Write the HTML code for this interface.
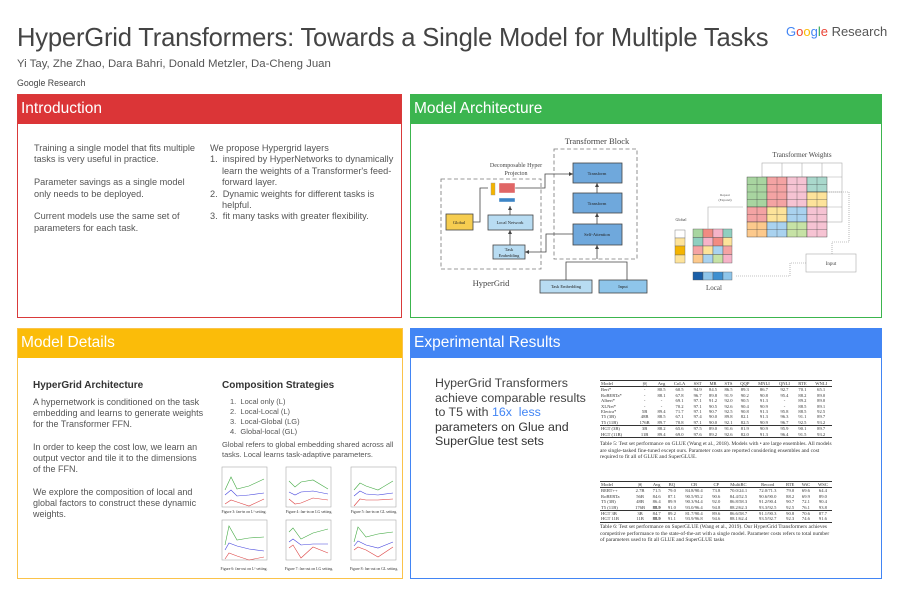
<!DOCTYPE html>
<html><head><meta charset="utf-8"><style>
*{margin:0;padding:0;box-sizing:border-box}
body{width:900px;height:600px;background:#fff;position:relative;overflow:hidden;font-family:"Liberation Sans",sans-serif;color:#444}
.a{position:absolute}
.box{position:absolute;border:1.5px solid}
.hd{position:absolute;left:0;right:0;top:0;height:29px;color:#fff;font-size:15.5px;padding:5px 0 0 3px}
.t{position:absolute;font-size:9.2px;line-height:11.4px;color:#555}
.t p{margin-bottom:11.4px}
table{border-collapse:collapse;font-family:"Liberation Serif",serif;font-size:4.6px;color:#333;line-height:5.4px}
td{padding:0 1px;text-align:center;white-space:nowrap}
td:first-child{text-align:left}
.cap{font-family:"Liberation Serif",serif;font-size:5.4px;line-height:6.6px;color:#333;position:absolute}
</style></head><body>
<div class="a" style="left:17px;top:24px;font-size:25.6px;color:#444;letter-spacing:-0.2px;white-space:nowrap">HyperGrid Transformers: Towards a Single Model for Multiple Tasks</div>
<div class="a" style="left:17px;top:58px;font-size:11.4px;color:#555;white-space:nowrap">Yi Tay, Zhe Zhao, Dara Bahri, Donald Metzler, Da-Cheng Juan</div>
<div class="a" style="left:17px;top:78px;font-size:8.8px;color:#444">Google Research</div>
<div class="a" style="left:786px;top:24px;font-size:13px"><span style="color:#4285f4">G</span><span style="color:#ea4335">o</span><span style="color:#fbbc05">o</span><span style="color:#4285f4">g</span><span style="color:#34a853">l</span><span style="color:#ea4335">e</span><span style="color:#555"> Research</span></div>

<div class="box" style="left:17px;top:94px;width:385px;height:224px;border-color:#d93a3a">
<div class="hd" style="background:#db3537">Introduction</div></div>
<div class="t" style="left:34px;top:143px;width:162px">
<p>Training a single model that fits multiple tasks is very useful in practice.</p>
<p>Parameter savings as a single model only needs to be deployed.</p>
<p>Current models use the same set of parameters for each task.</p></div>
<div class="t" style="left:210px;top:143px;width:185px">We propose Hypergrid layers<br>
<div style="padding-left:12px;text-indent:-12px">1.&nbsp; inspired by HyperNetworks to dynamically learn the weights of a Transformer's feed-forward layer.</div>
<div style="padding-left:12px;text-indent:-12px">2.&nbsp; Dynamic weights for different tasks is helpful.</div>
<div style="padding-left:12px;text-indent:-12px">3.&nbsp; fit many tasks with greater flexibility.</div></div>

<div class="box" style="left:410px;top:94px;width:472px;height:224px;border-color:#3cb54e">
<div class="hd" style="background:#3bb54f">Model Architecture</div></div>
<svg class="a" style="left:0;top:0" width="900" height="600" font-family="Liberation Serif,serif">
<g fill="none" stroke="#777" stroke-width="0.8" stroke-dasharray="4,2.5">
<rect x="554" y="149" width="83" height="110"/><rect x="441" y="179" width="100" height="90"/></g>
<text x="597" y="144" font-size="8.5" text-anchor="middle" fill="#444">Transformer Block</text>
<text x="516" y="167" font-size="6" text-anchor="middle" fill="#444">Decomposable Hyper</text>
<text x="516" y="175" font-size="6" text-anchor="middle" fill="#444">Projecton</text>
<text x="491" y="286" font-size="8.5" text-anchor="middle" fill="#444">HyperGrid</text>
<g stroke="#444" stroke-width="0.8" font-size="4.5" fill="#222" text-anchor="middle">
<rect x="573" y="163" width="49" height="20" fill="#6fa8dc"/><text x="597" y="175" stroke="none">Transform</text>
<rect x="573" y="193" width="49" height="20" fill="#6fa8dc"/><text x="597" y="205" stroke="none">Transform</text>
<rect x="573" y="224" width="49" height="21" fill="#6fa8dc"/><text x="597" y="236" stroke="none">Self-Attention</text>
<rect x="446" y="214" width="27" height="16" fill="#f6cd50"/><text x="459" y="224" stroke="none">Global</text>
<rect x="488" y="215" width="45" height="15" fill="#b8dcf2"/><text x="510" y="224" stroke="none">Local Network</text>
<rect x="493" y="245" width="32" height="14" fill="#b8dcf2"/><text x="509" y="251" stroke="none">Task</text><text x="509" y="257" stroke="none">Embedding</text>
<rect x="540" y="280" width="52" height="13" fill="#b8dcf2"/><text x="566" y="288" stroke="none">Task Embedding</text>
<rect x="599" y="280" width="48" height="13" fill="#8ec5ea"/><text x="623" y="288" stroke="none">Input</text>
</g>
<g fill="none" stroke="#444" stroke-width="0.8">
<path d="M597 193V183M597 224V213M597 259V245M566 280V262H627V280M473 222H480V188H488M510 245V230M510 215V206M515 188H545V174H573M573 234H546V252H525"/></g>
<g fill="#444"><path d="M597 183l-2 4h4zM597 213l-2 4h4zM597 245l-2 4h4zM510 230l-2 4h4zM510 206l-2 4h4zM573 174l-4-2v4zM525 252l4-2v4z"/></g>
<rect x="491" y="183" width="4" height="12" fill="#f4b400" stroke="#999" stroke-width="0.4"/>
<g stroke="#fff" stroke-width="0.4"><rect x="499" y="183" width="16" height="10" fill="#e06666"/><rect x="499" y="198" width="16" height="4" fill="#3d85c6"/></g>
<text x="802" y="157" font-size="7" text-anchor="middle" fill="#444">Transformer Weights</text>
<g fill="none" stroke="#aaa" stroke-width="0.6"><rect x="762" y="163" width="80" height="59"/>
<path d="M782 163V222M802 163V222M822 163V222M762 177H842M762 192H842M762 207H842"/></g>
<g stroke="#333" stroke-width="0.4">
<rect x="747" y="177" width="20" height="30" fill="#a8d5a0"/><rect x="767" y="177" width="20" height="30" fill="#f4a3a3"/><rect x="787" y="177" width="20" height="30" fill="#f6c3d3"/><rect x="807" y="177" width="20" height="15" fill="#a9d8cc"/><rect x="807" y="192" width="20" height="15" fill="#fde39a"/>
<rect x="747" y="207" width="20" height="15" fill="#f4a3a3"/><rect x="767" y="207" width="20" height="15" fill="#fde39a"/><rect x="787" y="207" width="20" height="15" fill="#a9d2ef"/><rect x="807" y="207" width="20" height="15" fill="#f6c3d3"/>
<rect x="747" y="222" width="20" height="15" fill="#fcc98c"/><rect x="767" y="222" width="20" height="15" fill="#a9d2ef"/><rect x="787" y="222" width="20" height="15" fill="#c6e2a5"/><rect x="807" y="222" width="20" height="15" fill="#f6c3d3"/>
</g>
<g stroke="#333" stroke-width="0.3" fill="none"><path d="M757 177V237M777 177V237M797 177V237M817 177V237M747 184.5H827M747 192H827M747 199.5H827M747 214.5H827M747 229.5H827"/></g>
<text x="681" y="221" font-size="4" text-anchor="middle" fill="#444">Global</text>
<g stroke="#666" stroke-width="0.4"><rect x="675" y="230" width="10" height="8" fill="#fff"/><rect x="675" y="238" width="10" height="8" fill="#fde39a"/><rect x="675" y="246" width="10" height="9" fill="#f4b400"/><rect x="675" y="255" width="10" height="8" fill="#fde39a"/></g>
<g stroke="#555" stroke-width="0.4">
<rect x="693" y="229" width="10" height="8.5" fill="#a8d5a0"/><rect x="703" y="229" width="10" height="8.5" fill="#f28b82"/><rect x="713" y="229" width="10" height="8.5" fill="#f6b3c8"/><rect x="723" y="229" width="9" height="8.5" fill="#8fcfc0"/>
<rect x="693" y="237.5" width="10" height="8.5" fill="#8fcfc0"/><rect x="703" y="237.5" width="10" height="8.5" fill="#f6b3c8"/><rect x="713" y="237.5" width="10" height="8.5" fill="#f28b82"/><rect x="723" y="237.5" width="9" height="8.5" fill="#fde39a"/>
<rect x="693" y="246" width="10" height="8.5" fill="#f4a3a3"/><rect x="703" y="246" width="10" height="8.5" fill="#fde39a"/><rect x="713" y="246" width="10" height="8.5" fill="#a9d2ef"/><rect x="723" y="246" width="9" height="8.5" fill="#f4a3a3"/>
<rect x="693" y="254.5" width="10" height="8.5" fill="#fcc98c"/><rect x="703" y="254.5" width="10" height="8.5" fill="#a9d2ef"/><rect x="713" y="254.5" width="10" height="8.5" fill="#c6e2a5"/><rect x="723" y="254.5" width="9" height="8.5" fill="#f6b3c8"/>
<rect x="693" y="272" width="10" height="8" fill="#1a5fa8"/><rect x="703" y="272" width="10" height="8" fill="#8ec5ea"/><rect x="713" y="272" width="10" height="8" fill="#3d8fd0"/><rect x="723" y="272" width="9" height="8" fill="#8ec5ea"/></g>
<text x="714" y="290" font-size="7" text-anchor="middle" fill="#444">Local</text>
<text x="725" y="196" font-size="3.5" text-anchor="middle" fill="#555">Repeat</text><text x="725" y="201" font-size="3.5" text-anchor="middle" fill="#555">(Expand)</text>
<path d="M708 229V207H743" fill="none" stroke="#aaa" stroke-width="0.6"/>
<rect x="806" y="254" width="50" height="18" fill="#fff" stroke="#aaa" stroke-width="0.6"/><text x="831" y="265" font-size="5" text-anchor="middle" fill="#444">Input</text>
<path d="M827 192H849V242H832V254M806 263H790V276H735" fill="none" stroke="#888" stroke-width="0.6" stroke-dasharray="1,1"/>
</svg>

<div class="box" style="left:17px;top:328px;width:386px;height:251px;border-color:#fbc34a">
<div class="hd" style="background:#fbbc09">Model Details</div></div>
<div class="a" style="left:33px;top:380px;font-size:10px;font-weight:bold;color:#333">HyperGrid Architecture</div>
<div class="t" style="left:33px;top:397px;width:172px;line-height:11.2px;font-size:9px">
<p style="margin-bottom:11.2px">A hypernetwork is conditioned on the task embedding and learns to generate weights for the Transformer FFN.</p>
<p style="margin-bottom:11.2px">In order to keep the cost low, we learn an output vector and tile it to the dimensions of the FFN.</p>
<p>We explore the composition of local and global factors to construct these dynamic weights.</p></div>
<div class="a" style="left:222px;top:380px;font-size:10px;font-weight:bold;color:#333">Composition Strategies</div>
<div class="t" style="left:222px;top:397px;width:178px;font-size:7.5px;line-height:10px">
<div style="padding-left:8px">1.&nbsp; Local only (L)<br>2.&nbsp; Local-Local (L)<br>3.&nbsp; Local-Global (LG)<br>4.&nbsp; Global-local (GL)</div>
<div style="margin-top:3px">Global refers to global embedding shared across all tasks. Local learns task-adaptive parameters.</div></div>
<svg class="a" style="left:210px;top:460px" width="195" height="120" font-family="Liberation Serif,serif">
<g fill="none" stroke-width="0.6">
<g transform="translate(12,7)"><rect width="45" height="40" stroke="#aaa"/><path d="M3 23L9 10L15 22L27 19L42 12" stroke="#4a4"/><path d="M3 28L9 23L15 29L27 28L42 26" stroke="#44d"/><path d="M3 37L9 33L15 35L27 39L42 32" stroke="#d44"/></g>
<g transform="translate(76,7)"><rect width="45" height="40" stroke="#aaa"/><path d="M3 14L9 20L15 15L27 13L42 22" stroke="#4a4"/><path d="M3 25L9 28L15 25L27 24L42 27" stroke="#44d"/><path d="M3 32L9 37L15 36L27 31L42 33" stroke="#d44"/></g>
<g transform="translate(141,7)"><rect width="45" height="40" stroke="#aaa"/><path d="M3 23L9 16L15 19L27 23L42 14" stroke="#4a4"/><path d="M3 29L9 24L15 27L27 28L42 26" stroke="#44d"/><path d="M3 39L9 32L15 33L27 33L42 32" stroke="#d44"/></g>
<g transform="translate(12,60)"><rect width="45" height="40" stroke="#aaa"/><path d="M3 25L7 6L15 20L27 18L42 17" stroke="#4a4"/><path d="M3 30L7 23L15 26L27 29L42 31" stroke="#44d"/><path d="M3 39L7 33L15 36L27 40L42 37" stroke="#d44"/></g>
<g transform="translate(76,60)"><rect width="45" height="40" stroke="#aaa"/><path d="M3 12L7 8L15 19L27 13L42 9" stroke="#4a4"/><path d="M3 22L7 19L15 25L27 24L42 24" stroke="#44d"/><path d="M3 28L7 25L15 38L27 27L42 33" stroke="#d44"/></g>
<g transform="translate(141,60)"><rect width="45" height="40" stroke="#aaa"/><path d="M3 22L7 7L15 17L27 14L42 12" stroke="#4a4"/><path d="M3 26L7 21L15 25L27 28L42 22" stroke="#44d"/><path d="M3 30L7 27L15 30L27 37L42 27" stroke="#d44"/></g>
</g>
<g font-size="3.8" fill="#333" text-anchor="middle">
<text x="34" y="53">Figure 3: fan-in on L² setting.</text><text x="99" y="53">Figure 4: fan-in on LG setting.</text><text x="164" y="53">Figure 5: fan-in on GL setting.</text>
<text x="34" y="110">Figure 6: fan-out on L² setting.</text><text x="99" y="110">Figure 7: fan-out on LG setting.</text><text x="164" y="110">Figure 8: fan-out on GL setting.</text></g>
</svg>

<div class="box" style="left:410px;top:328px;width:472px;height:251px;border-color:#4285f4">
<div class="hd" style="background:#4285f4">Experimental Results</div></div>
<div class="a" style="left:435px;top:376px;font-size:12.4px;line-height:14.6px;color:#444;width:162px">HyperGrid Transformers<br>achieve comparable results<br>to T5 with <span style="color:#4285f4">16x&nbsp; less</span><br><span style="color:#333">parameters on Glue and<br>SuperGlue test sets</span></div>

<table class="a" style="left:600px;top:380px;width:232px;border-top:0.6px solid #333;border-bottom:0.6px solid #333">
<tr style="border-bottom:0.5px solid #333"><td>Model</td><td>|θ|</td><td>Avg</td><td>CoLA</td><td>SST</td><td>MR</td><td>STS</td><td>QQP</td><td>MNLI</td><td>QNLI</td><td>RTE</td><td>WNLI</td></tr>
<tr><td>Bert*</td><td>-</td><td>80.5</td><td>60.5</td><td>94.9</td><td>84.5</td><td>86.5</td><td>89.3</td><td>86.7</td><td>92.7</td><td>70.1</td><td>65.1</td></tr>
<tr><td>RoBERTa*</td><td>-</td><td>88.1</td><td>67.8</td><td>96.7</td><td>89.8</td><td>91.9</td><td>90.2</td><td>90.8</td><td>95.4</td><td>88.2</td><td>89.0</td></tr>
<tr><td>Albert*</td><td>-</td><td>-</td><td>69.1</td><td>97.1</td><td>91.2</td><td>92.0</td><td>90.5</td><td>91.3</td><td>-</td><td>89.2</td><td>89.0</td></tr>
<tr><td>XLNet*</td><td>-</td><td>-</td><td>70.2</td><td>97.1</td><td>90.5</td><td>92.6</td><td>90.4</td><td>90.9</td><td>-</td><td>88.5</td><td>89.1</td></tr>
<tr><td>Electra*</td><td>5B</td><td>89.4</td><td>71.7</td><td>97.1</td><td>90.7</td><td>92.5</td><td>90.8</td><td>91.3</td><td>95.8</td><td>88.5</td><td>92.5</td></tr>
<tr><td>T5 (3B)</td><td>48B</td><td>88.5</td><td>67.1</td><td>97.4</td><td>90.0</td><td>89.8</td><td>82.1</td><td>91.3</td><td>96.3</td><td>91.1</td><td>89.7</td></tr>
<tr><td>T5 (11B)</td><td>176B</td><td>89.7</td><td>70.8</td><td>97.1</td><td>90.0</td><td>92.1</td><td>82.5</td><td>90.9</td><td>96.7</td><td>92.5</td><td>93.2</td></tr>
<tr style="border-top:0.5px solid #333"><td>HGT (3B)</td><td>3B</td><td>88.2</td><td>65.6</td><td>97.5</td><td>89.0</td><td>91.6</td><td>81.9</td><td>90.9</td><td>95.9</td><td>90.1</td><td>89.7</td></tr>
<tr><td>HGT (11B)</td><td>11B</td><td>89.4</td><td>69.0</td><td>97.6</td><td>89.2</td><td>92.6</td><td>82.0</td><td>91.3</td><td>96.4</td><td>91.5</td><td>93.2</td></tr>
</table>
<div class="cap" style="left:600px;top:441px;width:234px">Table 5: Test set performance on GLUE (Wang et al., 2018). Models with • are large ensembles. All models are single-tasked fine-tuned except ours. Parameter costs are reported considering ensembles and cost required to fit all of GLUE and SuperGLUE.</div>

<table class="a" style="left:600px;top:481px;width:232px;border-top:0.6px solid #333;border-bottom:0.6px solid #333">
<tr style="border-bottom:0.5px solid #333"><td>Model</td><td>|θ|</td><td>Avg</td><td>BQ</td><td>CB</td><td>CP</td><td>MultiRC</td><td>Record</td><td>RTE</td><td>WiC</td><td>WSC</td></tr>
<tr><td>BERT++</td><td>2.7B</td><td>71.5</td><td>79.0</td><td>84.8/90.4</td><td>73.8</td><td>70.0/24.1</td><td>72.0/71.3</td><td>79.0</td><td>69.6</td><td>64.4</td></tr>
<tr><td>RoBERTa</td><td>56B</td><td>84.6</td><td>87.1</td><td>90.5/95.2</td><td>90.6</td><td>84.4/52.5</td><td>90.6/90.0</td><td>88.2</td><td>69.9</td><td>89.0</td></tr>
<tr><td>T5 (3B)</td><td>48B</td><td>86.4</td><td>89.9</td><td>90.3/94.4</td><td>92.0</td><td>86.8/58.3</td><td>91.2/90.4</td><td>90.7</td><td>72.1</td><td>90.4</td></tr>
<tr><td>T5 (11B)</td><td>176B</td><td><b>88.9</b></td><td>91.0</td><td>93.0/96.4</td><td>94.8</td><td>88.2/62.3</td><td>93.3/92.5</td><td>92.5</td><td>76.1</td><td>93.8</td></tr>
<tr style="border-top:0.5px solid #333"><td>HGT 3B</td><td>3B</td><td>84.7</td><td>89.2</td><td>81.7/90.4</td><td>89.6</td><td>86.6/58.7</td><td>91.1/90.3</td><td>90.8</td><td>70.6</td><td>87.7</td></tr>
<tr><td>HGT 11B</td><td>11B</td><td><b>88.9</b></td><td>91.1</td><td>93.9/96.8</td><td>94.6</td><td>88.1/62.4</td><td>93.5/92.7</td><td>92.3</td><td>74.6</td><td>91.6</td></tr>
</table>
<div class="cap" style="left:600px;top:524px;width:234px">Table 6: Test set performance on SuperGLUE (Wang et al., 2019). Our HyperGrid Transformers achieves competitive performance to the state-of-the-art with a single model. Parameter costs refers to total number of parameters used to fit all GLUE and SuperGLUE tasks</div>
</body></html>
